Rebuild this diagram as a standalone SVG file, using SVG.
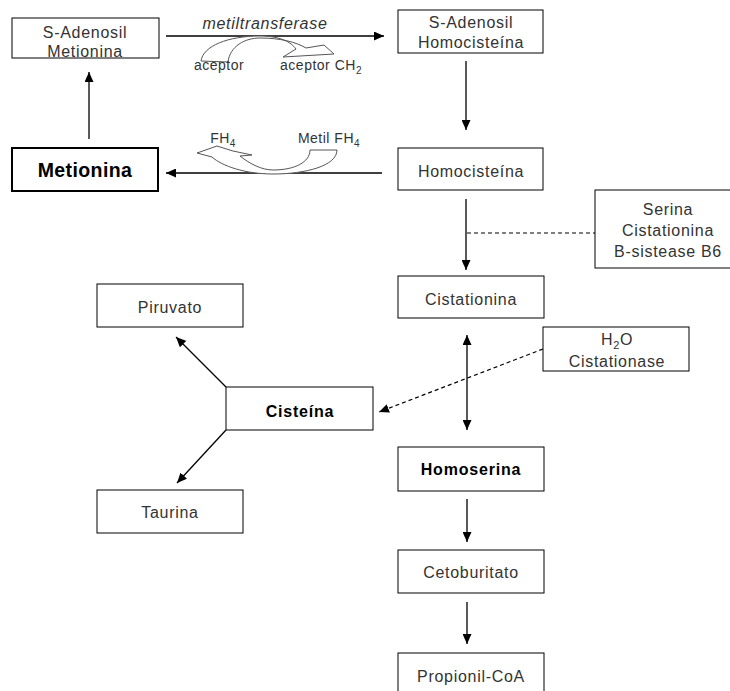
<svg xmlns="http://www.w3.org/2000/svg" width="730" height="691" viewBox="0 0 730 691">
<defs>
<marker id="ah" markerUnits="userSpaceOnUse" markerWidth="10" markerHeight="9" refX="10" refY="4.5" orient="auto">
<path d="M0,0 L10,4.5 L0,9 Z" fill="#000"/>
</marker>
<marker id="ahs" markerUnits="userSpaceOnUse" markerWidth="10" markerHeight="9" refX="0" refY="4.5" orient="auto">
<path d="M10,0 L0,4.5 L10,9 Z" fill="#000"/>
</marker>
<style>
.box{fill:#fff;stroke:#000;stroke-width:1}
.boxb{fill:#fff;stroke:#000;stroke-width:2}
.t{font-family:"Liberation Sans",Arial,sans-serif;font-size:16px;letter-spacing:0.7px;fill:#333;text-anchor:middle}
.b{font-family:"Liberation Sans",Arial,sans-serif;font-weight:bold;fill:#000;text-anchor:middle}
.s{font-family:"Liberation Sans",Arial,sans-serif;font-size:14px;letter-spacing:0.5px;fill:#333;text-anchor:middle}
.ln{stroke:#000;stroke-width:1.3;fill:none}
.dash{stroke:#000;stroke-width:1.2;fill:none;stroke-dasharray:4,3}
.crv{fill:#fff;stroke:#555;stroke-width:1}
</style>
</defs>
<rect width="730" height="691" fill="#fff"/>

<g id="connectors">
<line class="ln" x1="166" y1="36" x2="384" y2="36" marker-end="url(#ah)"/>
<line class="ln" x1="89" y1="139" x2="89" y2="72" marker-end="url(#ah)"/>
<line class="ln" x1="382" y1="173" x2="166" y2="173" marker-end="url(#ah)"/>
<line class="ln" x1="466" y1="61" x2="466" y2="130" marker-end="url(#ah)"/>
<line class="ln" x1="466" y1="199" x2="466" y2="270" marker-end="url(#ah)"/>
<line class="dash" x1="467" y1="233" x2="595" y2="233"/>
<line class="ln" x1="467" y1="335" x2="467" y2="430" marker-start="url(#ahs)" marker-end="url(#ah)"/>
<line class="dash" x1="543" y1="349" x2="379" y2="412" marker-end="url(#ah)"/>
<line class="ln" x1="467" y1="499" x2="467" y2="542" marker-end="url(#ah)"/>
<line class="ln" x1="467" y1="602" x2="467" y2="644" marker-end="url(#ah)"/>
<line class="ln" x1="226" y1="387" x2="176" y2="337" marker-end="url(#ah)"/>
<line class="ln" x1="226" y1="430" x2="177" y2="483" marker-end="url(#ah)"/>
<path class="crv" d="M 201,61 C 203,46 228,36 260,36 C 280,36 291,42 296,49 L 283,57 L 334,54 L 324,45 L 306,48 C 296,42 280,38 260,38 C 245,38 230,46 228,62 Z"/>
<path class="crv" d="M 310,150 L 337,150 C 337,166 305,174 273,174 C 245,174 222,166 212,157 L 197,153 L 217,146 L 233,151 L 252,155 L 240,156 C 250,164 262,170 273,170 C 295,170 310,162 310,150 Z"/>
</g>

<g id="sam">
<rect class="box" x="12" y="18" width="147" height="40"/>
<text class="t" x="85" y="38">S-Adenosil</text>
<text class="t" x="85" y="57">Metionina</text>
</g>
<g id="metionina">
<rect class="boxb" x="12" y="148" width="146" height="43"/>
<text class="b" x="85" y="177" font-size="19.5" letter-spacing="0.4">Metionina</text>
</g>
<g id="sah">
<rect class="box" x="398" y="10" width="145" height="43"/>
<text class="t" x="471" y="28">S-Adenosil</text>
<text class="t" x="471" y="48">Homocisteína</text>
</g>
<g id="homocisteina">
<rect class="box" x="398" y="148" width="145" height="42"/>
<text class="t" x="471" y="177">Homocisteína</text>
</g>
<g id="serina">
<rect class="box" x="595" y="190" width="145" height="78"/>
<text class="t" x="668" y="215">Serina</text>
<text class="t" x="668" y="236">Cistationina</text>
<text class="t" x="668" y="257">B-sistease B6</text>
</g>
<g id="cistationina">
<rect class="box" x="398" y="276" width="146" height="42"/>
<text class="t" x="471" y="305">Cistationina</text>
</g>
<g id="cistationase">
<rect class="box" x="543" y="327" width="146" height="44"/>
<text class="t" x="617" y="345">H<tspan font-size="11" dy="4">2</tspan><tspan dy="-4">O</tspan></text>
<text class="t" x="617" y="367">Cistationase</text>
</g>
<g id="homoserina">
<rect class="box" x="398" y="447" width="146" height="44"/>
<text class="b" x="471" y="475" font-size="16" letter-spacing="0.8">Homoserina</text>
</g>
<g id="cetoburitato">
<rect class="box" x="398" y="550" width="146" height="43"/>
<text class="t" x="471" y="578">Cetoburitato</text>
</g>
<g id="propionil">
<rect class="box" x="398" y="653" width="146" height="50"/>
<text class="t" x="471" y="682">Propionil-CoA</text>
</g>
<g id="piruvato">
<rect class="box" x="97" y="284" width="146" height="43"/>
<text class="t" x="170" y="313">Piruvato</text>
</g>
<g id="cisteina">
<rect class="box" x="226" y="387" width="147" height="43"/>
<text class="b" x="300" y="417" font-size="16" letter-spacing="0.8">Cisteína</text>
</g>
<g id="taurina">
<rect class="box" x="97" y="490" width="146" height="43"/>
<text class="t" x="170" y="518">Taurina</text>
</g>

<g id="labels">
<text class="t" x="265" y="29" font-style="italic" font-size="16">metiltransferase</text>
<text class="s" x="219" y="70">aceptor</text>
<text class="s" x="321" y="70">aceptor CH<tspan font-size="10" dy="4">2</tspan></text>
<text class="s" x="223" y="143">FH<tspan font-size="10" dy="4">4</tspan></text>
<text class="s" x="329" y="143">Metil FH<tspan font-size="10" dy="4">4</tspan></text>
</g>
</svg>
